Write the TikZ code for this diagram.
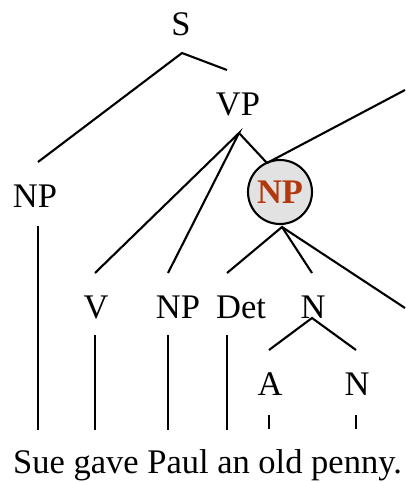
\documentclass[tikz,border=0pt]{standalone}
\usepackage{fontspec}
\setmainfont{Liberation Serif}
\definecolor{npred}{RGB}{178,56,14}
\definecolor{npfill}{RGB}{226,226,226}
\begin{document}
\begin{tikzpicture}[x=1pt,y=-1pt,
  cat/.style={anchor=base,inner sep=0pt,font=\fontsize{34.5}{40}\selectfont},
  branch/.style={line width=2.1pt},
  term/.style={line width=1.8pt},
  focus/.style={circle,draw,line width=2.1pt,fill=npfill,minimum size=64pt,inner sep=0pt,
    text=npred,font=\fontsize{34.5}{40}\selectfont\bfseries}]
\useasboundingbox (0,0) rectangle (405,482);
% labels
\node[cat] (S) at (181,35) {S};
\node[cat] (VP) at (238,115) {VP};
\node[cat] (NP1) at (35,207) {NP};
\node[focus] (NP3) at (280,192) {\raisebox{-2.5pt}{NP}};
\node[cat] (V) at (96,318) {V};
\node[cat] (NP2) at (178,318) {NP};
\node[cat] (Det) at (241,318) {Det};
\node[cat] (N1) at (313,318) {N};
\node[cat] (A) at (270,395) {A};
\node[cat] (N2) at (357,395) {N};
\node[anchor=base west,inner sep=0pt,font=\fontsize{34.5}{40}\selectfont] (sent) at (13,473) {Sue gave Paul an old penny.};
% branch points
\coordinate (Sb) at (182,53);
\coordinate (VPb) at (239,133);
\coordinate (NP3t) at (267,163);
\coordinate (NP3b) at (282,227);
\coordinate (N1b) at (312,318);
\coordinate (offA) at (405,90);
\coordinate (offB) at (405,308);
% S
\draw[branch] (38,162) -- (Sb) -- (227,70);
% VP
\draw[branch] (95,273) -- (VPb) -- (168,273);
\draw[branch] (VPb) -- (NP3t);
\draw[branch] (NP3t) -- (offA);
% focused NP
\draw[branch] (227,273) -- (NP3b) -- (312,273);
\draw[branch] (NP3b) -- (offB);
% N
\draw[branch] (269,350) -- (N1b) -- (356,350);
% terminal lines
\draw[term] (38,226) -- (38,430);
\draw[term] (95,335) -- (95,430);
\draw[term] (168,335) -- (168,430);
\draw[term] (227,335) -- (227,430);
\draw[term] (269,415) -- (269,429);
\draw[term] (356,415) -- (356,429);
\end{tikzpicture}
\end{document}
